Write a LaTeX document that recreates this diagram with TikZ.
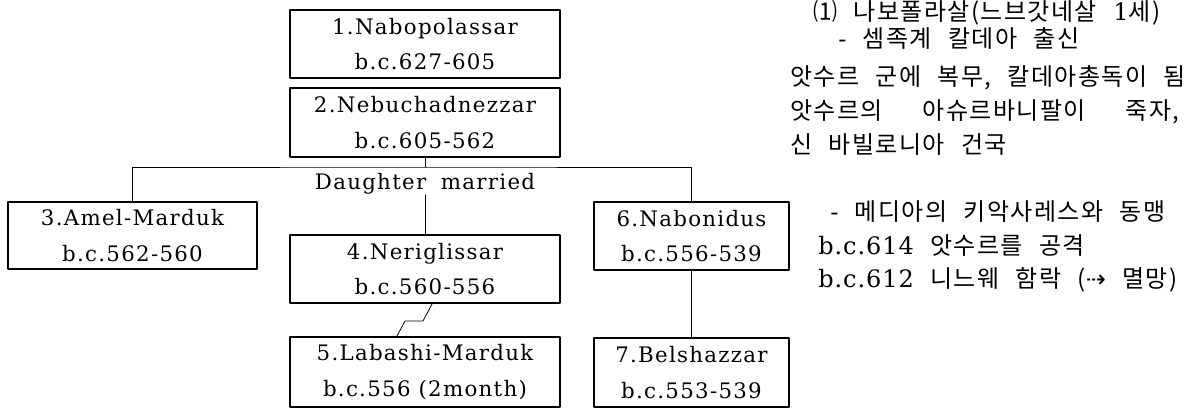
\documentclass[tikz,border=0pt]{standalone}
\usepackage{fontspec}
\setmainfont{DejaVu Serif}[LetterSpace=6]
\newfontfamily\kr{Noto Sans CJK KR}[LetterSpace=6,WordSpace=2.4]
\newfontfamily\lat{DejaVu Serif}[LetterSpace=4]
\newfontfamily\sym{DejaVu Sans}
\tikzset{king/.style={draw,line width=1.5pt,rectangle,inner sep=0pt,align=center,
    font=\fontsize{16}{26.5}\selectfont},
  link/.style={line width=0.6pt},
  note/.style={anchor=base west,inner sep=0pt,font=\fontsize{18}{20}\kr}}

\begin{document}
\begin{tikzpicture}[line cap=round,line join=round,x=0.75pt,y=-0.75pt]
	\useasboundingbox (0,0) rectangle (1193,409);
	% kings
	\node[king,minimum width=202.5pt,minimum height=51pt] (nabo) at (425,44) {1.Nabopolassar\\b.c.627-605};
	\node[king,minimum width=202.5pt,minimum height=51.75pt] (nebu) at (425,122.5) {2.Nebuchadnezzar\\b.c.605-562};
	\node[king,minimum width=186.75pt,minimum height=50.25pt] (amel) at (132.5,235.5) {3.Amel-Marduk\\b.c.562-560};
	\node[king,minimum width=202.5pt,minimum height=51pt] (neri) at (425,269) {4.Neriglissar\\b.c.560-556};
	\node[king,minimum width=202.5pt,minimum height=52.5pt] (laba) at (425,372) {5.Labashi-Marduk\\b.c.556 (2month)};
	\node[king,minimum width=146.25pt,minimum height=51pt] (nabon) at (691.5,236) {6.Nabonidus\\b.c.556-539};
	\node[king,minimum width=146.25pt,minimum height=51.75pt] (bels) at (691.5,372.5) {7.Belshazzar\\b.c.553-539};
	\node[inner sep=0pt,font=\fontsize{16}{18}\selectfont] (dau) at (425,184) {Daughter\hspace{5pt} married};
	% lines
	\coordinate (fork) at (425,167);
	\draw[link] (nebu) -- (fork);
	\draw[link] (amel.north) |- (fork) -| (nabon.north);
	\draw[link] (dau.south) -- (neri.north);
	\draw[link] ([xshift=5.25pt]neri.south) -- (423,321) -- (405,321) -- ([xshift=-21pt]laba.north);
	\draw[link] (nabon) -- (bels);
	% notes
	\node[note] (n1) at (813,21) {⑴ 나보폴라살(느브갓네살 {\lat 1}세)};
	\node[note] (n2) at (838,48) {{\lat -} 셈족계 칼데아 출신};
	\node[note] (n3) at (790,86) {앗수르 군에 복무, 칼데아총독이 됨};
	\node[note] (n4) at (790,120) {\makebox[292pt][s]{앗수르의 아슈르바니팔이 죽자,}};
	\node[note] (n5) at (790,154) {신 바빌로니아 건국};
	\node[note] (n6) at (830,221) {{\lat -} 메디아의 키악사레스와 동맹};
	\node[note] (n7) at (818,255) {{\lat b.c.614} 앗수르를 공격};
	\node[note] (n8) at (818,288) {{\lat b.c.612} 니느웨 함락 ({\sym ⇢} 멸망)};
\end{tikzpicture}
\end{document}
